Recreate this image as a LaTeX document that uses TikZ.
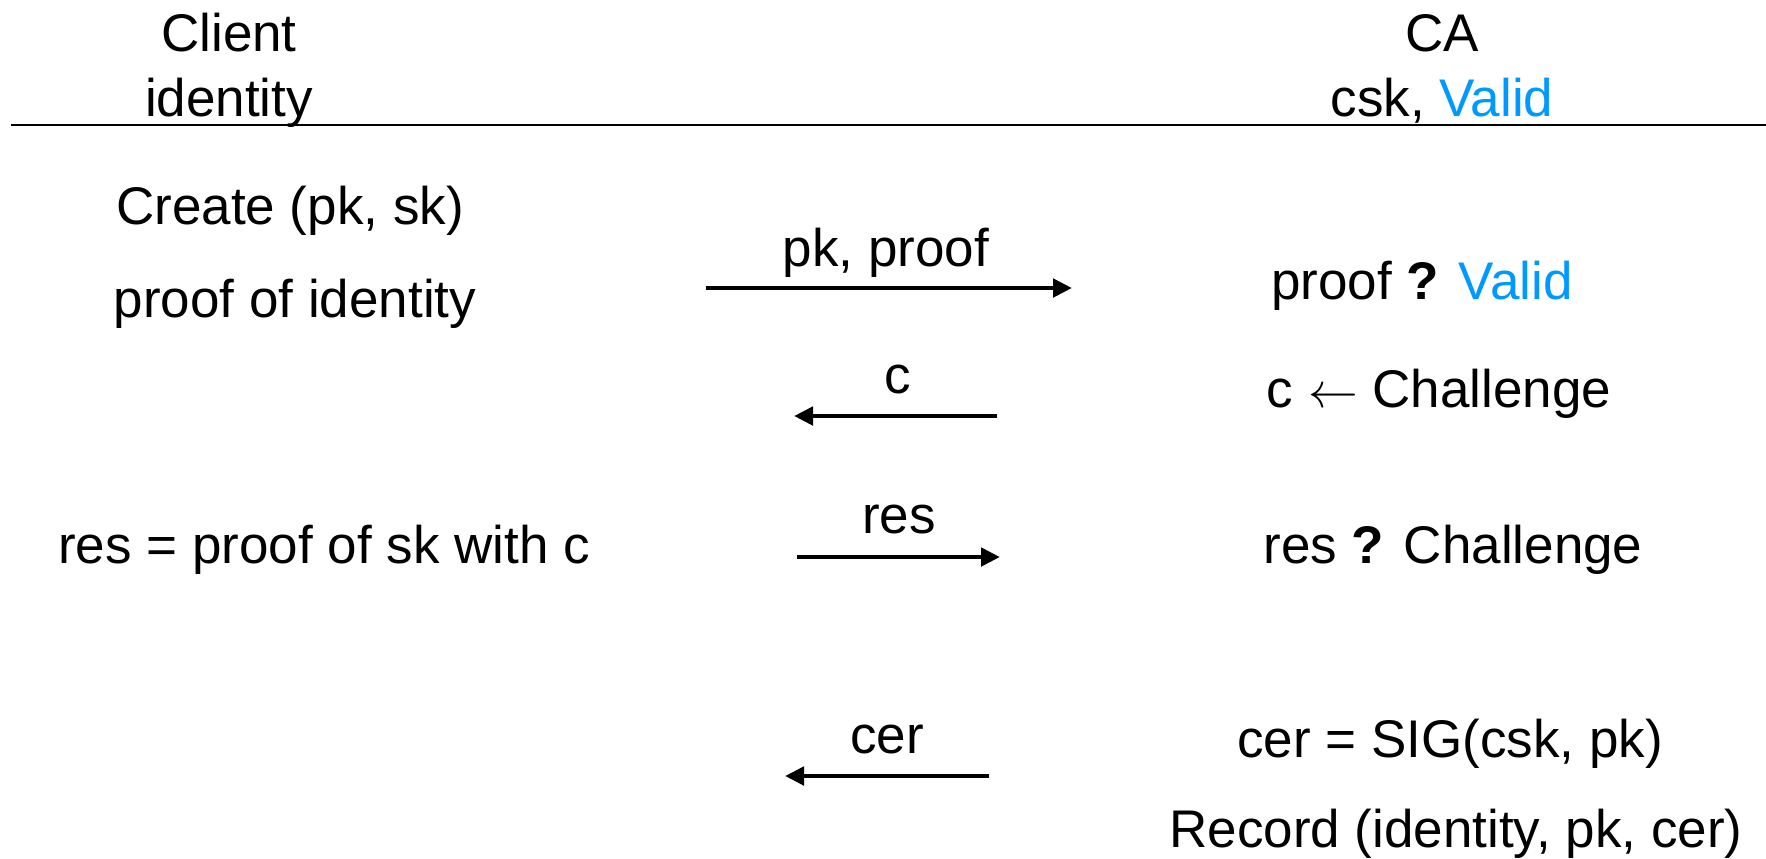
\documentclass[tikz,border=0pt]{standalone}
\usepackage{fontspec}
\setmainfont{Liberation Sans}
\usetikzlibrary{arrows.meta}
\definecolor{validblue}{RGB}{0,153,255}
\tikzset{
  lbl/.style={font=\fontsize{26.5pt}{30pt}\selectfont, inner sep=0pt, anchor=base},
  msg/.style={line width=2.4pt, -{Triangle[length=9.5pt,width=9pt]}},
}
\begin{document}
\begin{tikzpicture}[x=0.5pt,y=-0.5pt]
\useasboundingbox (0,0) rectangle (1766,858);
% party headers
\node[lbl] (client) at (229,51) {Client};
\node[lbl] (clientid) at (229,116) {identity};
\node[lbl] (ca) at (1442,51) {CA};
\node[lbl] (cakeys) at (1442,116) {csk, \textcolor{validblue}{Valid}};
\coordinate (ruleL) at (11,125);
\coordinate (ruleR) at (1766,125);
\draw[line width=1pt] (ruleL) -- (ruleR);
% client side
\node[lbl] (create) at (290,224) {Create (pk, sk)};
\node[lbl] (pfid) at (295,317) {proof of identity};
\node[lbl] (resdef) at (324,563) {res = proof of sk with c};
% CA side
\node[lbl] (chkproof) at (1422,299) {proof \textbf{?} \textcolor{validblue}{Valid}};
\node[lbl] (chal) at (1439,407) {c $\leftarrow$ Challenge};
\node[lbl] (chkres) at (1453,563) {res \textbf{?} Challenge};
\node[lbl] (cerdef) at (1450,757) {cer = SIG(csk, pk)};
\node[lbl] (record) at (1456,847) {Record (identity, pk, cer)};
% messages
\coordinate (m1a) at (706,288); \coordinate (m1b) at (1072,288);
\coordinate (m2a) at (997,416); \coordinate (m2b) at (794,416);
\coordinate (m3a) at (797,557); \coordinate (m3b) at (1000,557);
\coordinate (m4a) at (989,776); \coordinate (m4b) at (785,776);
\draw[msg] (m1a) -- (m1b);
\draw[msg] (m2a) -- (m2b);
\draw[msg] (m3a) -- (m3b);
\draw[msg] (m4a) -- (m4b);
\node[lbl] (m1l) at (886,266) {pk, proof};
\node[lbl] (m2l) at (898,393) {c};
\node[lbl] (m3l) at (899,533) {res};
\node[lbl] (m4l) at (887,753) {cer};
\end{tikzpicture}
\end{document}
